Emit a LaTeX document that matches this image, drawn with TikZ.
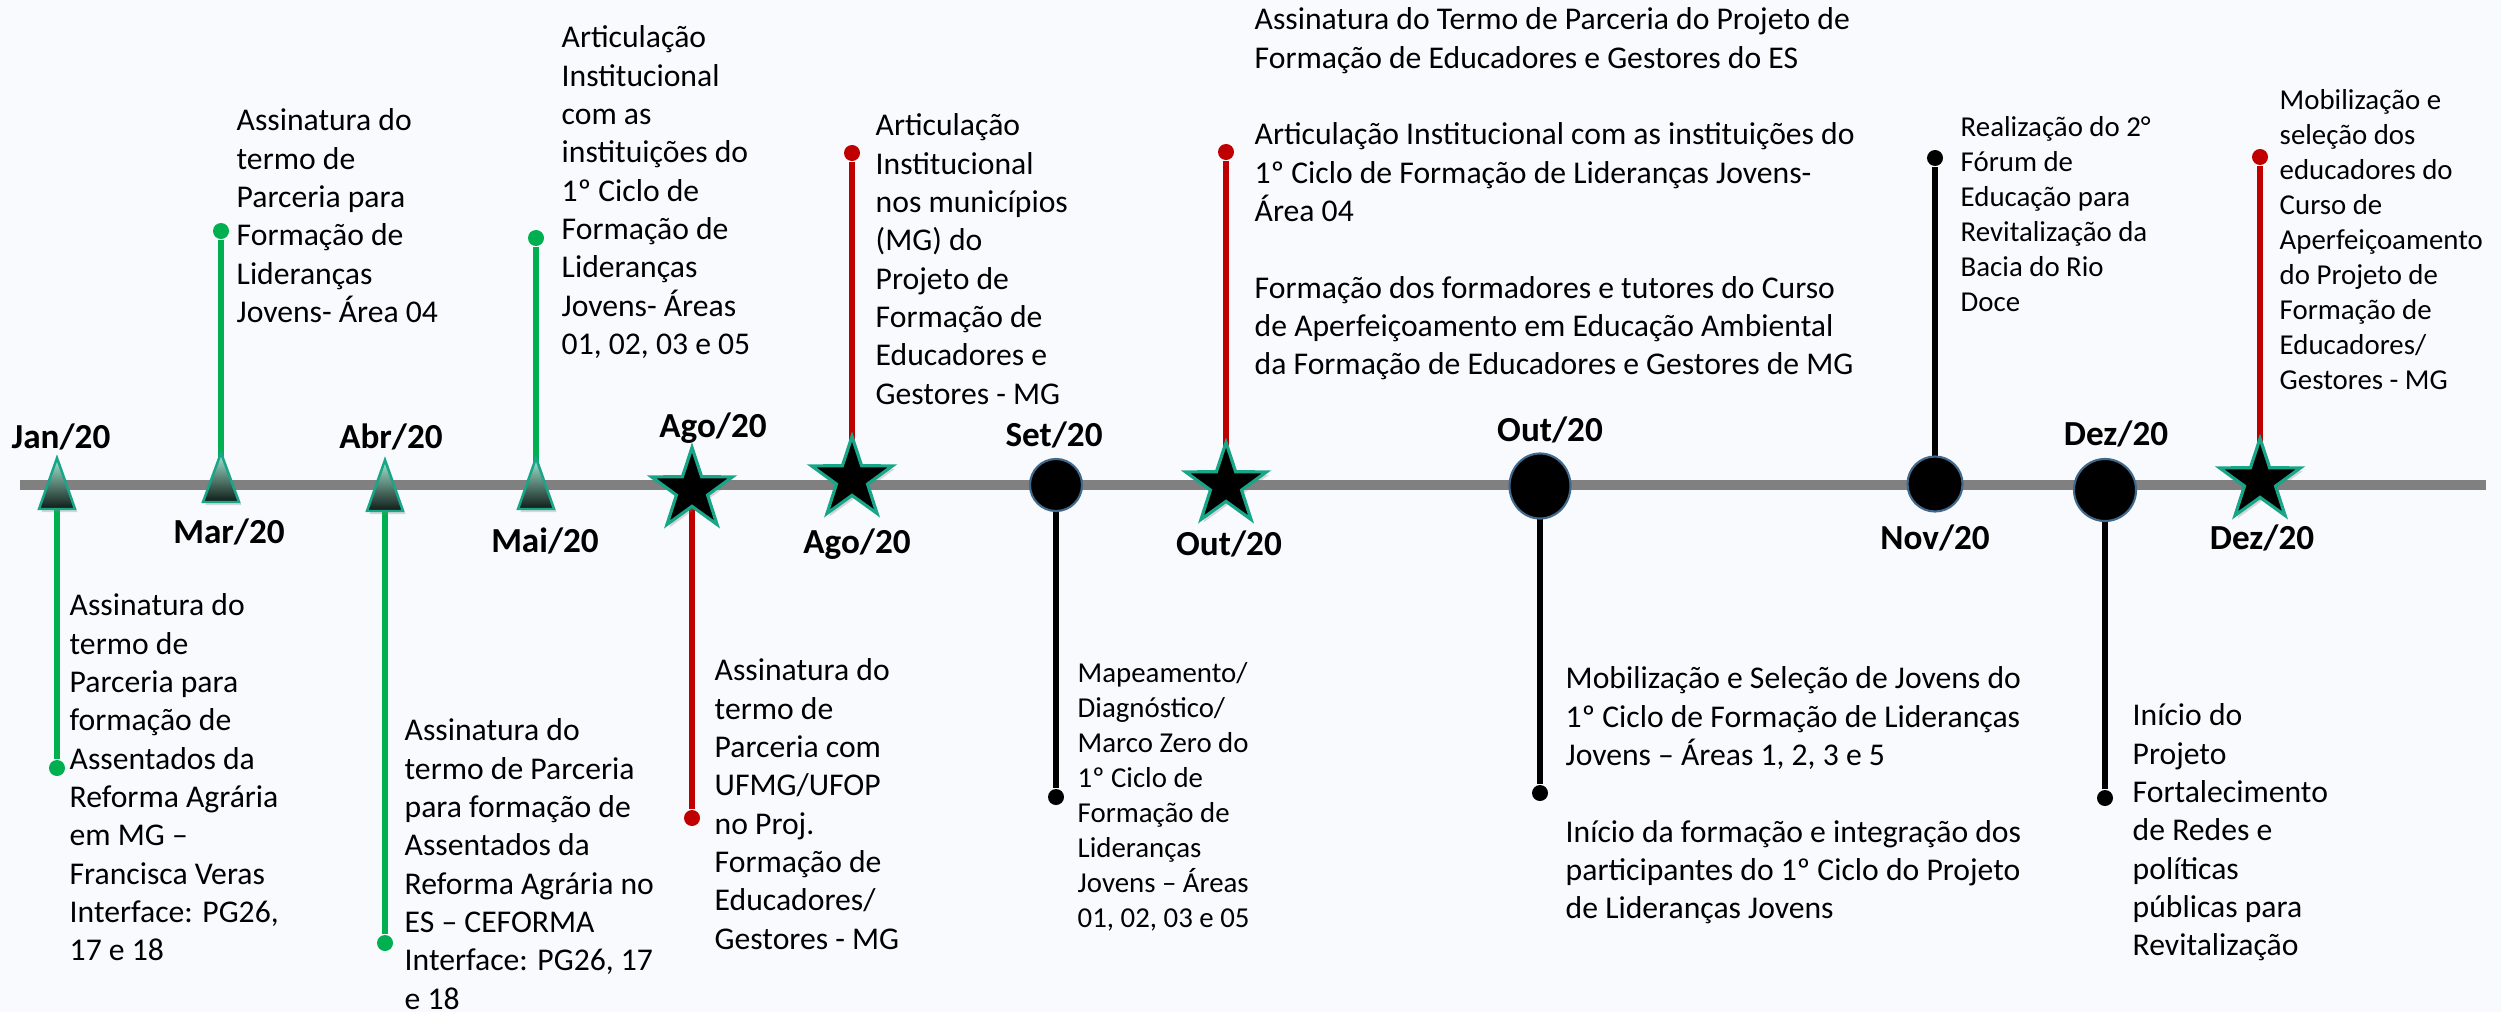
\documentclass[tikz,border=0pt]{standalone}
\usepackage{fontspec}
\setmainfont{Carlito}
\usetikzlibrary{shapes.geometric,shadows}

\definecolor{paper}{RGB}{249,250,254}
\definecolor{bargray}{RGB}{128,128,128}
\definecolor{stemgreen}{RGB}{0,176,80}
\definecolor{stemred}{RGB}{192,0,0}
\definecolor{markteal}{RGB}{24,166,136}
\definecolor{mintlight}{RGB}{165,234,212}
\definecolor{mintdark}{RGB}{14,26,22}
\definecolor{ringblue}{RGB}{65,105,140}

\tikzset{
  monthlab/.style={font=\fontsize{10}{12}\selectfont\bfseries, inner sep=0pt},
  evtext/.style={font=\fontsize{9}{10.9}\selectfont, align=left, anchor=north west, inner sep=0pt},
  evsmall/.style={font=\fontsize{8.2}{9.95}\selectfont, align=left, anchor=north west, inner sep=0pt},
  stem/.style={line width=1.45pt},
  enddot/.style={circle, fill, inner sep=0pt, minimum size=0.16cm},
  tri/.style={draw=markteal, line width=0.7pt, top color=mintlight, bottom color=mintdark,
    drop shadow={opacity=0.3, shadow xshift=0.025cm, shadow yshift=-0.03cm}},
  markstar/.style={star, star points=5, star point ratio=2.6, minimum size=0.85cm, inner sep=0pt,
    fill=black, draw=markteal, line width=0.9pt,
    drop shadow={opacity=0.3, shadow xshift=0.025cm, shadow yshift=-0.03cm}},
  markdisc/.style={circle, minimum size=0.52cm, inner sep=0pt, fill=black, draw=ringblue, line width=0.6pt}
}

\begin{document}
\begin{tikzpicture}[x=0.01cm, y=-0.01cm]
  \fill[paper] (0,0) rectangle (2501,1012);
  \useasboundingbox (0,0) rectangle (2501,1012);

  % timeline
  \draw[bargray, line width=3.1pt] (20,485) -- (2486,485);

  % marker centres
  \coordinate (jan)  at (57,484);
  \coordinate (mar)  at (221,478);
  \coordinate (abr)  at (385,486);
  \coordinate (mai)  at (536,484);
  \coordinate (agoA) at (692,490);
  \coordinate (agoB) at (852,479);
  \coordinate (set)  at (1056,485);
  \coordinate (outA) at (1226,485);
  \coordinate (outB) at (1540,486);
  \coordinate (nov)  at (1935,484);
  \coordinate (dezA) at (2105,490);
  \coordinate (dezB) at (2260,481);

  % stem ends
  \node[enddot, stemgreen] (jandot)  at (57,768) {};
  \node[enddot, stemgreen] (mardot)  at (221,231) {};
  \node[enddot, stemgreen] (abrdot)  at (385,943) {};
  \node[enddot, stemgreen] (maidot)  at (536,238) {};
  \node[enddot, stemred]   (agoAdot) at (692,818) {};
  \node[enddot, stemred]   (agoBdot) at (852,153) {};
  \node[enddot]            (setdot)  at (1056,797) {};
  \node[enddot, stemred]   (outAdot) at (1226,152) {};
  \node[enddot]            (outBdot) at (1540,793) {};
  \node[enddot]            (novdot)  at (1935,158) {};
  \node[enddot]            (dezAdot) at (2105,798) {};
  \node[enddot, stemred]   (dezBdot) at (2260,157) {};

  \draw[stem, stemgreen] (jan) -- (jandot);
  \draw[stem, stemgreen] (mar) -- (mardot);
  \draw[stem, stemgreen] (abr) -- (abrdot);
  \draw[stem, stemgreen] (mai) -- (maidot);
  \draw[stem, stemred]   (agoA) -- (agoAdot);
  \draw[stem, stemred]   (agoB) -- (agoBdot);
  \draw[stem]            (set) -- (setdot);
  \draw[stem, stemred]   (outA) -- (outAdot);
  \draw[stem]            (outB) -- (outBdot);
  \draw[stem]            (nov) -- (novdot);
  \draw[stem]            (dezA) -- (dezAdot);
  \draw[stem, stemred]   (dezB) -- (dezBdot);

  % markers
  \path[tri] (jan) ++(0,-26) -- ++(18,51) -- ++(-36,0) -- cycle;
  \path[tri] (mar) ++(0,-25) -- ++(18,49) -- ++(-36,0) -- cycle;
  \path[tri] (abr) ++(0,-26) -- ++(18,51) -- ++(-36,0) -- cycle;
  \path[tri] (mai) ++(0,-26) -- ++(18,51) -- ++(-36,0) -- cycle;
  \node[markstar] (agoAm) at (agoA) {};
  \node[markstar] (agoBm) at (agoB) {};
  \node[markdisc] (setm) at (set) {};
  \node[markstar] (outAm) at (outA) {};
  \node[markdisc, minimum width=0.61cm, minimum height=0.65cm, ellipse] (outBm) at (outB) {};
  \node[markdisc, minimum size=0.55cm] (novm) at (nov) {};
  \node[markdisc, minimum size=0.62cm] (dezAm) at (dezA) {};
  \node[markstar] (dezBm) at (dezB) {};

  % month labels
  \node[monthlab] (janlab)  at (61,437)   {Jan/20};
  \node[monthlab] (marlab)  at (229,532)  {Mar/20};
  \node[monthlab] (abrlab)  at (391,437)  {Abr/20};
  \node[monthlab] (mailab)  at (545,541)  {Mai/20};
  \node[monthlab] (agoAlab) at (713,428)  {Ago/20};
  \node[monthlab] (agoBlab) at (857,544)  {Ago/20};
  \node[monthlab] (setlab)  at (1054,435) {Set/20};
  \node[monthlab] (outAlab) at (1229,544) {Out/20};
  \node[monthlab] (outBlab) at (1550,430) {Out/20};
  \node[monthlab] (novlab)  at (1935,538) {Nov/20};
  \node[monthlab] (dezAlab) at (2116,434) {Dez/20};
  \node[monthlab] (dezBlab) at (2262,538) {Dez/20};

  % event texts
  \node[evtext] (jantxt) at (69,593) {Assinatura do\\termo de\\Parceria para\\formação de\\Assentados da\\Reforma Agrária\\em MG --\\Francisca Veras\\Interface: PG26,\\17 e 18};
  \node[evtext] (martxt) at (236,108) {Assinatura do\\termo de\\Parceria para\\Formação de\\Lideranças\\Jovens- Área 04};
  \node[evtext] (abrtxt) at (404,718) {Assinatura do\\termo de Parceria\\para formação de\\Assentados da\\Reforma Agrária no\\ES -- CEFORMA\\Interface: PG26, 17\\e 18};
  \node[evtext] (maitxt) at (561,25) {Articulação\\Institucional\\com as\\instituições do\\1º Ciclo de\\Formação de\\Lideranças\\Jovens- Áreas\\01, 02, 03 e 05};
  \node[evtext] (agoAtxt) at (714,658) {Assinatura do\\termo de\\Parceria com\\UFMG/UFOP\\no Proj.\\Formação de\\Educadores/\\Gestores - MG};
  \node[evtext] (agoBtxt) at (875,113) {Articulação\\Institucional\\nos municípios\\(MG) do\\Projeto de\\Formação de\\Educadores e\\Gestores - MG};
  \node[evsmall] (settxt) at (1077,662) {Mapeamento/\\Diagnóstico/\\Marco Zero do\\1º Ciclo de\\Formação de\\Lideranças\\Jovens -- Áreas\\01, 02, 03 e 05};
  \node[evtext] (outAtxt) at (1254,7) {Assinatura do Termo de Parceria do Projeto de\\Formação de Educadores e Gestores do ES\\[10.9pt]Articulação Institucional com as instituições do\\1º Ciclo de Formação de Lideranças Jovens-\\Área 04\\[10.9pt]Formação dos formadores e tutores do Curso\\de Aperfeiçoamento em Educação Ambiental\\da Formação de Educadores e Gestores de MG};
  \node[evtext] (outBtxt) at (1565,666) {Mobilização e Seleção de Jovens do\\1º Ciclo de Formação de Lideranças\\Jovens -- Áreas 1, 2, 3 e 5\\[10.9pt]Início da formação e integração dos\\participantes do 1º Ciclo do Projeto\\de Lideranças Jovens};
  \node[evsmall] (novtxt) at (1960,116) {Realização do 2°\\Fórum de\\Educação para\\Revitalização da\\Bacia do Rio\\Doce};
  \node[evtext] (dezAtxt) at (2132,703) {Início do\\Projeto\\Fortalecimento\\de Redes e\\políticas\\públicas para\\Revitalização};
  \node[evsmall] (dezBtxt) at (2279,89) {Mobilização e\\seleção dos\\educadores do\\Curso de\\Aperfeiçoamento\\do Projeto de\\Formação de\\Educadores/\\Gestores - MG};
\end{tikzpicture}
\end{document}
